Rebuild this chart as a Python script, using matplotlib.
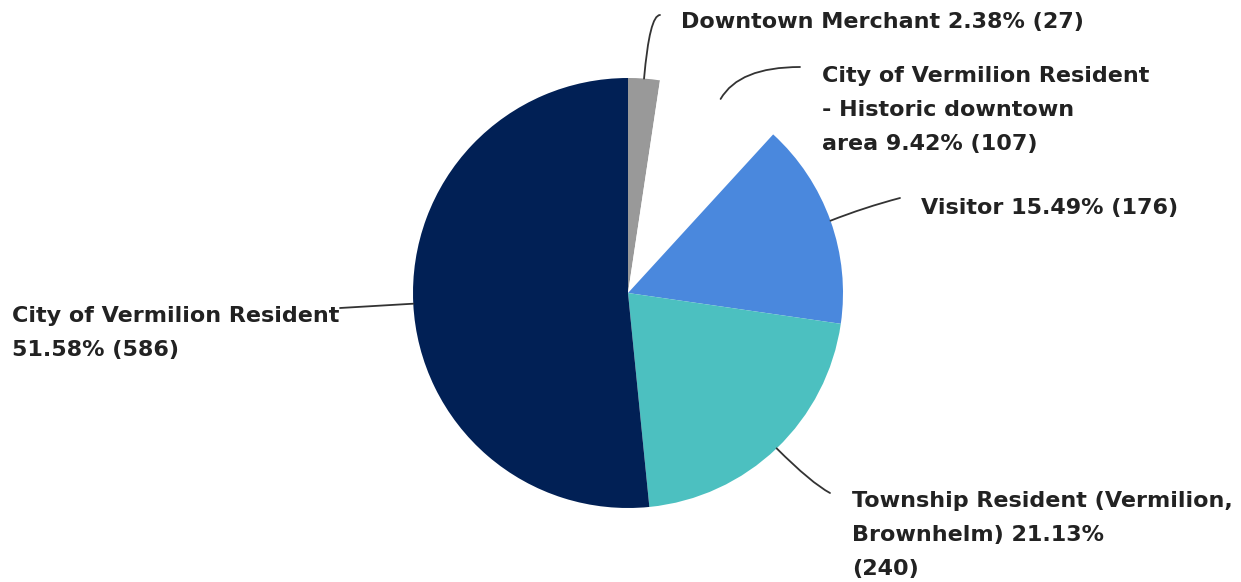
import numpy as np
import matplotlib
matplotlib.use("Agg")
import matplotlib.pyplot as plt

categories = ["Downtown Merchant", "City of Vermilion Resident - Historic downtown area", "Visitor",
              "Township Resident (Vermilion, Brownhelm)", "City of Vermilion Resident"]
percents = [2.38, 9.42, 15.49, 21.13, 51.58]
counts = [27, 107, 176, 240, 586]
colors = ["#999999", "#ffffff", "#4a88dd", "#4cc0c0", "#012055"]

W, H = 1241, 582
fig = plt.figure(figsize=(W / 100, H / 100), dpi=100)
ax = fig.add_axes([0, 0, 1, 1])

cx, cy, R = 628, H - 293, 215
wedges, _ = ax.pie(counts, colors=colors, startangle=90, counterclock=False,
                   center=(cx, cy), radius=R, frame=True,
                   wedgeprops=dict(linewidth=0))
ax.set_xlim(0, W)
ax.set_ylim(0, H)
ax.set_aspect("equal")
ax.axis("off")

labels = [
    ["Downtown Merchant 2.38% (27)"],
    ["City of Vermilion Resident", "- Historic downtown", "area 9.42% (107)"],
    ["Visitor 15.49% (176)"],
    ["Township Resident (Vermilion,", "Brownhelm) 21.13%", "(240)"],
    ["City of Vermilion Resident", "51.58% (586)"],
]
# label styling / placement (pixel coords, y from top = first line centre)
text_pos = [(681, 22), (822, 76), (921, 208), (852, 501), (12, 316)]
line_step = 34
line_end = [(660, 15), (800, 67), (900, 198), (830, 493), (340, 308)]
conn = ["angle3,angleA=0,angleB=85", "angle3,angleA=0,angleB=60", "arc3,rad=0.03",
        "angle3,angleA=-28,angleB=-45", "arc3,rad=0"]

font = dict(family=["DejaVu Sans"], fontweight="bold", fontsize=16,
            color="#222222")

for i, w in enumerate(wedges):
    ang = (w.theta1 + w.theta2) / 2.0
    ax_, ay_ = cx + R * np.cos(np.radians(ang)), cy + R * np.sin(np.radians(ang))
    ex, ey = line_end[i]
    ax.annotate("", xy=(ax_, ay_), xytext=(ex, H - ey),
                arrowprops=dict(arrowstyle="-", color="#333333", lw=1.3,
                                connectionstyle=conn[i], shrinkA=0, shrinkB=0))
    tx, ty = text_pos[i]
    for k, line in enumerate(labels[i]):
        ax.text(tx, H - (ty + k * line_step), line, ha="left", va="center", **font)

fig.savefig("out.png", dpi=100)
